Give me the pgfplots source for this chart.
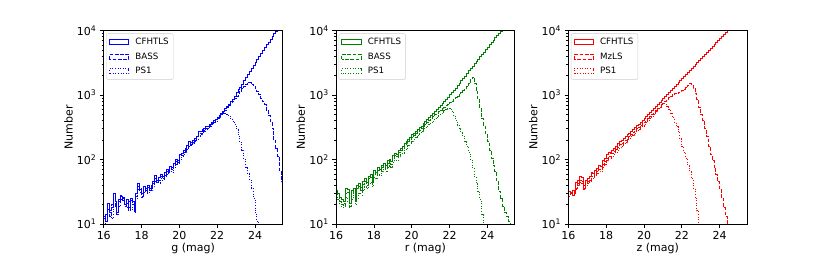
\documentclass[border=0pt]{standalone}
\usepackage{pgfplots}
\usepackage{pgfplotstable}
\pgfplotsset{compat=1.18}
\usepackage{fontspec}
\setmainfont{DejaVu Sans}
\definecolor{mplgreen}{rgb}{0,0.5,0}

\pgfplotstableread{
m c b p
16.0 1 1 1
16.0 13 12 9
16.1 11 14 11
16.2 21 17 13
16.3 16 13 15
16.4 18 20 12
16.5 30 25 19
16.6 22 19 22
16.7 15 14 16
16.8 24 22 19
16.9 27 24 28
17.0 26 23 25
17.1 20 19 21
17.2 24 21 18
17.3 18 16 22
17.4 25 23 19
17.5 22 20 17
17.6 16 15 21
17.7 30 27 25
17.8 42 38 34
17.9 34 31 35
18.0 30 27 26
18.1 38 35 31
18.2 33 31 35
18.3 40 37 30
18.4 36 33 36
18.5 39 36 33
18.6 45 42 38
18.7 56 51 45
18.8 47 44 48
18.9 52 48 43
19.0 58 54 50
19.1 55 51 47
19.2 62 57 53
19.3 70 64 58
19.4 65 60 62
19.5 78 72 66
19.6 74 69 63
19.7 88 82 76
19.8 100 92 85
19.9 96 90 88
20.0 120 110 98
20.1 125 116 108
20.2 140 130 120
20.3 150 140 130
20.4 165 153 142
20.5 190 175 160
20.6 185 172 165
20.7 200 186 175
20.8 210 196 190
20.9 230 215 205
21.0 275 255 230
21.1 270 252 240
21.2 290 270 255
21.3 300 282 270
21.4 320 300 290
21.5 330 312 305
21.6 355 335 325
21.7 380 360 345
21.8 400 380 370
21.9 420 400 395
22.0 450 430 420
22.1 480 460 455
22.2 520 500 490
22.3 560 540 510
22.4 610 585 520
22.5 660 630 500
22.6 720 690 470
22.7 780 740 430
22.8 860 800 390
22.9 960 880 350
23.0 1080 960 290
23.1 1200 1050 230
23.2 1330 1150 185
23.3 1480 1250 140
23.4 1650 1360 100
23.5 1850 1460 75
23.6 2050 1580 60
23.7 2300 1560 48
23.8 2550 1480 36
23.9 2850 1380 25
24.0 3200 1260 15
24.1 3550 1130 11
24.2 3950 1000 1
24.3 4400 880 1
24.4 4900 780 1
24.5 5400 700 1
24.6 6000 580 1
24.7 6600 480 1
24.8 7300 390 1
24.9 8000 300 1
25.0 8900 200 1
25.1 9800 150 1
25.2 10800 110 1
25.3 11800 65 1
25.4 12800 45 1
25.5 12800 45 1
}\tabg

\pgfplotstableread{
m c b p
16.0 1 1 1
16.0 33 30 30
16.1 30 27 24
16.2 26 22 20
16.3 24 20 18
16.4 22 19 21
16.5 35 30 26
16.6 34 31 22
16.7 21 19 18
16.8 33 28 24
16.9 36 32 28
17.0 25 22 20
17.1 40 35 25
17.2 42 38 30
17.3 37 33 28
17.4 45 41 33
17.5 50 45 38
17.6 44 40 35
17.7 55 50 42
17.8 58 53 44
17.9 47 43 38
18.0 68 62 52
18.1 62 56 50
18.2 75 68 58
18.3 70 64 56
18.4 82 75 64
18.5 88 80 70
18.6 80 73 66
18.7 95 87 76
18.8 100 92 80
18.9 92 85 76
19.0 115 105 90
19.1 125 114 98
19.2 120 110 96
19.3 140 128 110
19.4 150 137 118
19.5 160 146 126
19.6 175 160 138
19.7 190 174 150
19.8 205 188 162
19.9 220 202 175
20.0 240 220 190
20.1 255 235 205
20.2 275 252 220
20.3 290 268 235
20.4 310 285 250
20.5 330 305 268
20.6 360 330 288
20.7 390 355 308
20.8 420 380 330
20.9 450 405 350
21.0 480 430 370
21.1 520 460 395
21.2 560 490 420
21.3 600 520 450
21.4 640 550 480
21.5 680 580 510
21.6 730 610 540
21.7 790 645 570
21.8 850 680 600
21.9 920 720 620
22.0 1000 760 610
22.1 1080 800 560
22.2 1170 850 480
22.3 1270 900 400
22.4 1380 960 340
22.5 1510 1020 300
22.6 1650 1090 260
22.7 1800 1160 230
22.8 1960 1250 190
22.9 2140 1360 160
23.0 2400 1500 130
23.1 2600 1750 100
23.2 2800 1900 75
23.3 3050 1500 55
23.4 3300 1150 42
23.5 3600 850 32
23.6 3900 620 24
23.7 4250 430 14
23.8 4600 330 1
23.9 5000 250 1
24.0 5500 190 1
24.1 6000 140 1
24.2 6500 105 1
24.3 7100 80 1
24.4 7700 65 1
24.5 8300 45 1
24.6 9000 32 1
24.7 9700 25 1
24.8 10500 19 1
24.9 11500 15 1
25.0 12500 13 1
25.1 13500 11 1
25.2 14500 1 1
25.3 15500 1 1
25.4 16500 1 1
25.5 16500 1 1
}\tabr

\pgfplotstableread{
m c b p
16.0 1 1 1
16.0 32 28 27
16.1 31 30 29
16.2 33 28 28
16.3 30 29 30
16.4 44 36 34
16.5 48 42 40
16.6 55 48 44
16.7 52 46 42
16.8 40 36 34
16.9 47 41 38
17.0 50 45 42
17.1 55 48 45
17.2 62 55 50
17.3 60 53 50
17.4 68 60 56
17.5 72 64 60
17.6 80 70 64
17.7 78 69 66
17.8 95 84 76
17.9 105 92 84
18.0 120 105 95
18.1 128 112 100
18.2 125 110 102
18.3 140 124 112
18.4 150 132 120
18.5 160 142 130
18.6 175 155 140
18.7 190 168 152
18.8 200 178 160
18.9 210 186 170
19.0 225 200 182
19.1 240 212 195
19.2 255 226 208
19.3 275 244 224
19.4 290 258 238
19.5 310 276 255
19.6 335 298 275
19.7 355 316 292
19.8 380 338 312
19.9 400 356 330
20.0 427 380 355
20.1 458 405 380
20.2 492 435 405
20.3 528 465 435
20.4 568 500 470
20.5 610 535 505
20.6 655 570 545
20.7 703 610 590
20.8 755 650 640
20.9 811 700 700
21.0 871 750 740
21.1 935 800 720
21.2 1005 860 660
21.3 1079 920 600
21.4 1159 960 520
21.5 1245 1000 440
21.6 1337 1040 380
21.7 1435 1070 320
21.8 1542 1100 270
21.9 1656 1130 210
22.0 1778 1170 160
22.1 1910 1230 130
22.2 2051 1320 105
22.3 2203 1420 80
22.4 2366 1510 65
22.5 2541 1480 50
22.6 2729 1260 36
22.7 2931 1050 25
22.8 3148 850 16
22.9 3381 650 1
23.0 3631 500 1
23.1 3899 400 1
23.2 4188 300 1
23.3 4498 230 1
23.4 4831 160 1
23.5 5188 118 1
23.6 5572 95 1
23.7 5984 75 1
23.8 6427 58 1
23.9 6902 45 1
24.0 7413 34 1
24.1 7962 25 1
24.2 8551 18 1
24.3 9183 13 1
24.4 9863 1 1
24.5 10590 1 1
24.6 11400 1 1
24.7 12200 1 1
24.8 13100 1 1
24.9 14100 1 1
25.0 15100 1 1
25.1 16200 1 1
25.2 17400 1 1
25.3 18700 1 1
25.4 20000 1 1
25.5 20000 1 1
}\tabz

\pgfplotsset{
  mypanel/.style={
    scale only axis, width=178.7pt, height=193.5pt,
    xmin=16, xmax=25.45, ymin=10, ymax=10000,
    xtick={16,18,20,22,24}, xticklabels={16,18,20,22,24},
    ytick={10,100,1000,10000},
    yticklabels={10\textsuperscript{1},10\textsuperscript{2},10\textsuperscript{3},10\textsuperscript{4}},
    minor ytick={20,30,40,50,60,70,80,90,200,300,400,500,600,700,800,900,2000,3000,4000,5000,6000,7000,8000,9000},
    tick align=outside, tick pos=left,
    major tick length=3.9pt, minor tick length=2.2pt,
    axis line style={line width=0.8pt, black},
    every tick/.style={black, line width=0.8pt},
    every minor tick/.style={black, line width=0.6pt},
    tick label style={font=\fontsize{11}{13}\selectfont},
    label style={font=\fontsize{11}{13}\selectfont},
    ylabel={Number},
    ylabel style={at={(axis description cs:-0.197,0.5)}, anchor=center},
    xlabel style={at={(axis description cs:0.5,-0.125)}, anchor=center},
    axis on top,
    legend style={at={(axis description cs:0.014,0.985)}, anchor=north west,
      draw=black!20, fill=white, rounded corners=2pt,
      font=\fontsize{8.7}{10}\selectfont, inner xsep=2.5pt, inner ysep=2.5pt,
      row sep=2.6pt,
      /tikz/every odd column/.append style={column sep=4pt}},
    legend cell align=left,
    legend image code/.code={\draw[##1, sharp corners] (0.5pt,-2.6pt) rectangle (20pt,2.6pt);},
  },
  sCF/.style={const plot, solid, line width=1pt},
  sBA/.style={const plot, line width=1pt, dash pattern=on 3.7pt off 1.6pt},
  sPS/.style={const plot, line width=1pt, dash pattern=on 1pt off 1.65pt},
}

\begin{document}
\begin{tikzpicture}[x=1pt,y=1pt]
\path[use as bounding box] (0,0) rectangle (830,256);
\begin{axis}[ymode=log, mypanel, at={(103.75pt,32pt)}, anchor=south west, xlabel={g (mag)}]
\addplot[sCF, draw=blue] table[x=m,y=c]{\tabg};
\addlegendentry{CFHTLS}
\addplot[sBA, draw=blue] table[x=m,y=b]{\tabg};
\addlegendentry{BASS}
\addplot[sPS, draw=blue] table[x=m,y=p]{\tabg};
\addlegendentry{PS1}
\end{axis}
\begin{axis}[ymode=log, mypanel, at={(336.1pt,32pt)}, anchor=south west, xlabel={r (mag)}]
\addplot[sCF, draw=mplgreen] table[x=m,y=c]{\tabr};
\addlegendentry{CFHTLS}
\addplot[sBA, draw=mplgreen] table[x=m,y=b]{\tabr};
\addlegendentry{BASS}
\addplot[sPS, draw=mplgreen] table[x=m,y=p]{\tabr};
\addlegendentry{PS1}
\end{axis}
\begin{axis}[ymode=log, mypanel, at={(568.4pt,32pt)}, anchor=south west, xlabel={z (mag)}]
\addplot[sCF, draw=red] table[x=m,y=c]{\tabz};
\addlegendentry{CFHTLS}
\addplot[sBA, draw=red] table[x=m,y=b]{\tabz};
\addlegendentry{MzLS}
\addplot[sPS, draw=red] table[x=m,y=p]{\tabz};
\addlegendentry{PS1}
\end{axis}
\end{tikzpicture}
\end{document}
